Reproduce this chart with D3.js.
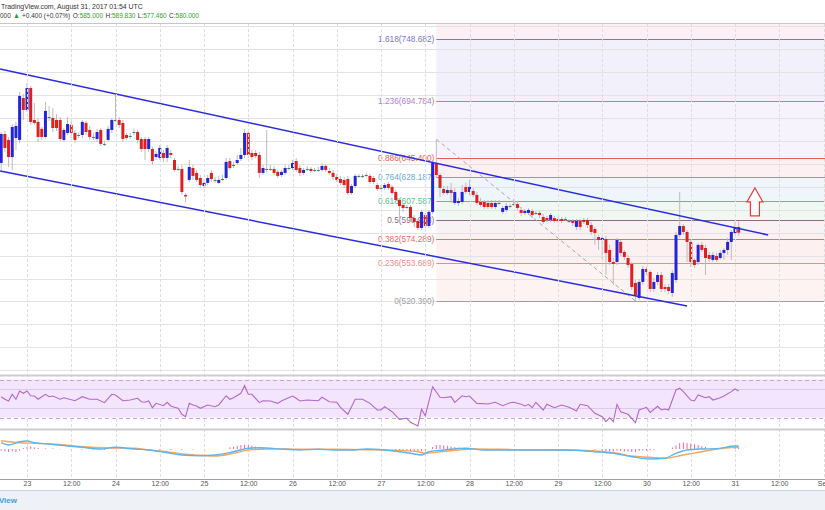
<!DOCTYPE html>
<html><head><meta charset="utf-8">
<script src="https://cdn.jsdelivr.net/npm/d3@7"></script>
<style>
html,body{margin:0;padding:0;background:#fff;overflow:hidden}
svg{display:block;font-family:"Liberation Sans",Arial,sans-serif}
</style></head><body>
<svg id="c" width="825" height="510"></svg>
<script>
// ---------- DATA (hourly BTCUSD bars, first bar Aug 22 16:00 UTC) ----------
const firstBarUtc = "2017-08-22T16:00:00Z";
const open = [
639.1,640.8,666.1,660.9,646.0,662.6,660.9,697.5,687.0,706.2,
678.3,676.6,670.5,663.5,680.9,680.1,678.3,678.3,660.9,667.0,
674.0,667.0,665.2,665.2,675.7,669.6,663.5,661.7,669.6,657.4,
660.9,669.6,678.3,678.3,675.7,665.2,664.4,667.8,667.8,661.7,
661.7,653.0,653.0,646.0,645.2,649.5,645.2,649.5,643.4,635.6,
635.6,612.9,626.0,636.4,632.1,627.7,620.7,623.4,632.1,626.0,
623.4,626.8,627.7,642.5,639.1,640.8,644.3,647.8,667.0,649.5,
649.5,647.8,632.1,635.6,635.6,635.6,633.0,630.3,632.1,636.4,
636.4,642.5,636.4,632.1,635.6,635.6,634.7,634.7,634.7,638.2,
633.8,632.1,628.6,626.8,626.0,626.8,614.6,620.7,629.5,629.5,
630.3,629.5,627.7,621.6,619.0,619.0,622.5,619.9,615.5,608.5,
604.2,602.4,602.4,592.8,590.2,584.1,595.4,585.8,598.1,640.8,
630.3,618.1,614.6,617.2,605.9,605.9,606.8,619.9,615.5,616.4,
612.9,606.8,606.8,605.9,605.9,602.4,605.9,598.1,599.8,603.3,
605.0,605.0,599.8,597.2,597.2,598.9,597.2,597.2,593.7,592.8,
591.1,592.8,591.9,591.9,591.9,590.2,590.2,585.0,590.2,591.1,
591.1,586.7,583.2,576.2,573.6,574.5,564.9,554.4,554.4,571.9,
563.2,557.9,552.7,536.1,523.0,537.0,548.3,545.7,530.9,537.0,
543.1,532.6,532.6,527.4,538.7,578.0,585.8,580.6,571.9,556.2,
554.4,569.3,566.6,560.5,556.2,559.7,557.9,562.3,564.9,571.9,
579.7,585.0];
const high = [
656.5,667.8,668.7,663.5,674.8,676.6,702.7,701.0,710.6,708.0,
693.1,680.1,672.2,694.0,690.5,688.8,683.5,680.9,671.3,680.9,
676.6,669.6,667.0,678.3,677.4,673.1,667.0,670.5,671.3,660.0,
673.1,680.1,700.1,680.9,678.3,667.0,667.0,670.5,669.6,663.5,
663.5,663.5,654.8,651.3,656.5,652.1,656.5,652.1,645.2,638.2,
639.1,614.6,643.4,639.1,634.7,630.3,626.0,630.3,634.7,628.6,
629.5,630.3,645.2,645.2,641.7,647.8,653.9,670.5,668.7,652.1,
652.1,650.4,639.1,669.6,639.1,638.2,634.7,634.7,639.1,639.1,
643.4,645.2,639.1,636.4,638.2,637.3,636.4,637.3,640.8,639.9,
636.4,634.7,631.2,629.5,628.6,629.5,622.5,631.2,631.2,631.2,
632.1,631.2,629.5,623.4,621.6,623.4,624.2,621.6,617.2,610.3,
605.9,604.2,604.2,595.4,591.9,599.8,597.2,599.8,643.4,661.5,
632.1,620.7,620.7,623.4,619.0,610.3,621.6,623.4,626.0,619.0,
615.5,610.3,608.5,608.5,608.5,608.5,608.5,603.3,605.9,605.0,
609.4,607.6,602.4,600.7,601.5,600.7,598.9,598.9,596.3,594.6,
597.2,594.6,593.7,593.7,593.7,591.9,591.9,591.9,591.9,592.8,
592.8,589.3,585.0,578.0,577.1,577.1,569.3,557.9,575.4,573.6,
564.9,560.5,554.4,538.7,539.6,550.9,550.1,547.5,540.5,545.7,
545.7,535.2,535.2,547.5,580.6,615.5,587.6,582.3,573.6,557.9,
571.0,571.9,569.3,563.2,563.2,562.3,564.9,566.6,575.4,582.3,
589.3,589.83];
const low = [
633.0,634.7,650.4,637.3,634.7,652.1,658.2,678.3,685.3,674.0,
674.0,659.1,660.9,661.7,677.4,667.8,668.7,660.0,659.1,665.2,
662.6,658.2,662.6,662.6,665.2,660.9,660.9,659.1,655.6,655.6,
659.1,667.0,676.6,671.3,659.1,660.9,661.7,665.2,658.2,650.4,
643.4,650.4,639.1,643.4,643.4,641.7,641.7,645.2,633.0,633.8,
612.9,606.8,624.2,626.0,624.2,619.0,619.0,621.6,624.2,623.4,
622.5,625.1,626.0,634.7,636.4,639.1,642.5,645.2,645.2,643.4,
645.2,627.7,630.3,633.0,633.8,630.3,627.7,628.6,630.3,634.7,
634.7,633.0,629.5,630.3,633.8,632.1,633.0,633.0,633.0,633.0,
630.3,626.0,624.2,621.6,619.0,612.9,612.9,619.0,627.7,627.7,
628.6,622.5,622.5,616.4,617.2,617.2,617.2,612.9,606.8,588.5,
598.1,600.7,589.3,585.0,582.3,582.3,584.1,584.1,596.3,627.7,
611.1,612.9,612.9,605.9,604.2,603.3,605.0,613.8,612.9,611.1,
604.2,602.4,600.7,600.7,600.7,600.7,604.2,596.3,598.1,601.5,
603.3,599.8,594.6,595.4,595.4,592.8,595.4,592.8,587.6,589.3,
589.3,588.5,588.5,588.5,590.2,588.5,585.8,582.3,582.3,587.6,
584.1,578.0,569.3,564.9,556.2,543.1,551.8,534.4,551.8,559.7,
556.2,549.2,530.0,520.39,521.0,534.4,543.1,528.3,528.3,534.4,
528.3,528.3,526.5,523.9,536.1,575.4,578.0,554.4,550.1,549.2,
551.8,563.2,543.1,554.4,554.4,554.4,556.2,556.2,560.5,556.2,
578.0,577.46];
const close = [
652.1,666.1,653.9,646.0,672.2,673.1,699.3,687.0,706.2,676.6,
675.7,663.5,663.5,686.2,680.9,671.3,671.3,661.7,669.6,674.8,
667.0,660.9,665.2,676.6,667.8,663.5,663.5,667.8,657.4,657.4,
670.5,678.3,678.3,674.0,661.7,662.6,664.4,667.8,660.9,653.0,
653.0,661.7,642.5,648.7,653.9,645.2,653.9,647.8,634.7,635.6,
615.5,611.6,637.3,629.5,626.0,621.6,623.4,627.7,626.8,626.0,
626.0,626.8,641.7,636.4,639.1,643.4,647.8,667.0,647.8,646.0,
646.9,632.1,636.4,635.6,635.6,632.1,629.5,633.0,636.4,636.4,
640.8,634.7,632.1,634.7,635.6,633.8,634.7,634.7,638.2,634.7,
632.1,628.6,626.0,623.4,621.6,614.6,620.7,629.5,629.5,629.5,
630.3,624.2,624.2,618.1,619.0,621.6,619.0,614.6,608.5,603.3,
601.5,602.4,592.8,589.3,584.1,598.1,585.8,598.1,640.8,630.3,
619.0,614.6,617.2,614.6,615.5,607.6,615.5,615.5,619.9,612.9,
605.9,604.2,602.4,602.4,602.4,605.9,605.9,601.5,603.3,603.3,
605.0,601.5,597.2,598.9,599.8,595.4,597.2,595.4,589.3,591.1,
595.4,590.2,590.2,590.2,591.9,590.2,588.5,590.2,585.0,589.3,
586.7,580.6,579.7,573.6,575.4,562.3,554.4,552.7,573.6,562.3,
558.8,551.8,532.6,525.6,537.0,548.3,545.7,530.9,537.0,543.1,
530.9,530.9,529.1,544.8,578.0,585.8,580.6,571.9,554.4,551.8,
569.3,564.9,557.9,557.1,560.5,556.2,562.3,564.9,571.9,580.6,
585.0,580.0];

// RSI(14): hours since Aug 23 00:00 UTC, values
const rsiHours = [-7,-6,-5,-4,-3,-2,-1,0,1,2,3,5,6,7,9,10,13,15,17,19,21,23,24,26,28,30,31,32,33,34,35,37,38,39,40,41,42,43,44,45,46,47,49,51,52,54,55,56,58,59,60,61,63,64,66,68,69,70,72,73,74,76,79,80,82,84,85,87,89,91,93,95,96,97,99,101,103,104,106,107,108,110,112,113,115,116,118,119,120,122,125,127,129,131,132,134,135,136,137,138,140,141,143,145,147,149,150,152,154,156,157,158,159,160,161,163,165,166,168,169,171,172,173,174,176,177,178,180,181,182,184,185,186,188,189,191,192,193];
const rsiValues = [51.9,49.2,47.4,54.4,49.2,57.9,55.5,57.9,52.9,52.6,49.2,54.4,51.9,52.6,49.2,50.8,47.7,51.9,49.2,49.2,45.6,54.4,53.7,47.7,48.4,50.2,46.6,46.0,47.4,40.3,44.9,42.4,46.0,42.1,40.7,39.7,33.4,30.8,44.9,43.2,42.1,39.7,43.2,41.4,43.2,52.9,49.2,50.8,55.5,63.5,54.4,54.4,45.6,47.7,47.4,44.9,47.4,49.2,52.6,50.2,47.4,48.4,47.7,51.3,46.6,46.0,40.7,33.4,49.2,49.2,44.9,37.9,37.9,41.4,36.1,28.1,29.2,24.9,21.1,38.6,31.9,62.4,51.3,50.8,51.9,46.0,52.9,51.9,52.6,44.9,44.2,46.0,42.4,45.6,46.0,43.9,42.1,43.9,40.3,46.0,37.9,43.9,40.3,43.2,40.7,36.8,43.9,42.4,34.4,30.8,25.6,29.8,25.6,43.9,36.1,33.4,24.6,37.9,40.7,35.4,41.8,37.9,38.9,37.9,59.0,60.8,57.2,48.4,47.4,53.7,50.8,51.9,48.4,50.8,52.6,57.2,60.0,57.9];
const rsiBand = [30, 70];
const rsiGrid = [40, 60];

// MACD
const macdHours = [-7,-5,-2,0,2,6,11,15,20,24,29,33,38,42,47,51,56,60,63,70,74,79,83,88,92,97,101,104,107,109,113,119,124,128,137,146,154,159,164,169,173,176,179,183,187,192,193];
const macdValues = [3.15,2.0,3.65,4.0,3.15,2.5,1.5,0.85,0,0.85,0,-0.5,-1.85,-3.0,-3.35,-3.0,-1.35,0.35,0.65,-0.15,-0.5,-0.15,-0.5,-0.5,0,-0.5,-1.35,-2.15,-3.0,-1.35,-0.5,0.35,-0.5,-0.5,-0.5,-0.5,-1.35,-2.15,-3.85,-5.0,-4.65,-2.15,-0.5,0,0.15,1.5,1.5];
const signalHours = [-7,-2,2,6,11,15,20,24,29,33,38,42,47,51,56,60,65,70,74,83,92,97,101,106,108,112,117,121,128,137,146,154,160,164,169,173,178,183,187,193];
const signalValues = [4.15,3.15,2.85,2.5,1.85,1.15,0.65,0.5,0.35,-0.5,-1.35,-2.5,-3.15,-3.5,-2.15,-0.5,0,0,-0.15,-0.15,-0.35,-0.5,-0.75,-1.35,-2.15,-1.35,-0.5,0,-0.15,-0.5,-0.5,-1.0,-2.15,-3.5,-4.15,-4.65,-3.0,-1.35,0,0.85];
const histHours = [-7,-6,-5,-4,-3,-2,-1,0,1,2,3,5,7,9,12,15,18,21,24,27,30,33,36,39,42,45,55,56,57,58,59,60,61,62,63,64,100,101,102,103,104,105,106,107,108,110,111,112,113,114,115,116,117,125,127,129,131,133,135,137,139,141,154,156,157,158,159,160,161,162,163,164,165,166,167,168,169,170,175,176,177,178,179,180,181,182,183,184,192,193];
const histValues = [-0.8,-1.2,-1.5,-1.2,-1.5,-0.8,0.5,1.0,1.2,0.8,0.5,0.3,0.3,-0.2,-0.2,-0.3,-0.3,-0.4,0.3,-0.2,-0.3,-0.3,-0.4,-0.5,-0.5,-0.3,0.8,1.2,1.6,2.0,2.2,2.0,1.6,1.2,0.8,0.5,-0.6,-0.8,-1.0,-1.1,-1.2,-1.3,-1.3,-1.0,-0.7,1.0,2.0,2.0,1.8,1.6,1.3,1.0,0.6,-0.3,-0.4,-0.5,-0.3,-0.4,-0.5,-0.4,-0.5,-0.4,-0.5,-0.8,-1.0,-1.2,-1.3,-0.8,-1.0,-1.2,-1.3,-1.5,-1.5,-1.0,-0.8,-0.8,-0.6,-0.4,0.8,1.8,3.0,3.2,3.0,2.8,2.4,2.0,1.4,1.0,1.0,0.8];

// Fibonacci retracement (drawn from hour 111 high to hour 165 low)
const fibRatios = ["0","0.236","0.382","0.5","0.618","0.764","0.886","1.236","1.618"];
const fibPrices = [520.390,553.689,574.289,590.938,607.587,628.187,645.400,694.784,748.682];
const fibColors = ["#9e9e9e","#f08a8a","#f06868","#8c6a82","#5cc08e","#66a9d9","#f05a5a","#b27ad8","#7c72d8"];
const fibFills = ["#fdf3f3","#fdf0f0","#f8f2f4","#eff8f3","#eef5fb","#fdf0f2","#f7f3fc","#f2f0fb"];
const fibStartHour = 111, fibHigh = 661.4855, fibEndHour = 165, fibLow = 520.39;

// Descending channel
const upperHours = [-7.3, 201], upperPrices = [722.8, 578.0];
const lowerHours = [-7.3, 179], lowerPrices = [633.8, 516.0];

// Arrow annotation
const arrowHour = 197.4, arrowPrice = 619.0;

// Axes / header text
const priceGrid = [460,480,500,520,540,560,580,600,620,640,660,680,700,720,740,760];
const timeLabels = ["23","12:00","24","12:00","25","12:00","26","12:00","27","12:00","28","12:00","29","12:00","30","12:00","31","12:00","Sep"];
const headerTitle = "TradingView.com, August 31, 2017 01:54 UTC";
const headerSegments = [["000","#333",3],["▲","#29a329",3],["+0.400 (+0.07%)","#333",3],["O:","#333",0],["585.000","#29a329",3],["H:","#333",0],["589.830","#29a329",3],["L:","#333",0],["577.460","#29a329",3],["C:","#333",0],["580.000","#29a329",0]];

// ---------- DRAW ----------
const W = 825, H = 510, HOUR = 3600e3;
const base = Date.UTC(2017, 7, 23);
const tH = h => new Date(base + h * HOUR);
const svg = d3.select("#c");
const x = d3.scaleUtc().domain([tH(0), tH(192)]).range([27, 735]);
const y = d3.scaleLinear().domain([520.39, 748.682]).range([301, 39.3]);
const yR = d3.scaleLinear().domain([30, 70]).range([417.5, 379.5]);
const yM = d3.scaleLinear().domain([-14.5, 8.5]).range([478, 432]);

const mainTop = 24, mainBot = 374, rsiTop = 377, rsiBot = 428, mTop = 431, mBot = 478;
const defs = svg.append("defs");
defs.append("clipPath").attr("id","cm").append("rect").attr("x",0).attr("y",mainTop).attr("width",W).attr("height",mainBot-mainTop);
defs.append("clipPath").attr("id","cr").append("rect").attr("x",0).attr("y",rsiTop).attr("width",W).attr("height",rsiBot-rsiTop);
defs.append("clipPath").attr("id","cd").append("rect").attr("x",0).attr("y",mTop).attr("width",W).attr("height",mBot-mTop);

svg.append("rect").attr("width",W).attr("height",H).attr("fill","#fff");

const main = svg.append("g").attr("clip-path","url(#cm)");
// fib background
const fx0 = x(tH(fibStartHour));
main.append("rect").attr("x",fx0).attr("y",mainTop).attr("width",W-fx0).attr("height",y(fibPrices[8])-mainTop).attr("fill","#fdf0f4");
main.selectAll("rect.ff").data(fibFills).join("rect").attr("class","ff")
  .attr("x",fx0).attr("width",W-fx0)
  .attr("y",(d,i)=>y(fibPrices[i+1])).attr("height",(d,i)=>y(fibPrices[i])-y(fibPrices[i+1]))
  .attr("fill",d=>d);

// grid
main.selectAll("line.hg").data(priceGrid).join("line").attr("class","hg")
  .attr("x1",0).attr("x2",W).attr("y1",d=>Math.round(y(d))+0.5).attr("y2",d=>Math.round(y(d))+0.5)
  .attr("stroke","#e3e3e3");
const vHours = d3.range(-12, 217, 12);
svg.append("g").selectAll("line").data(vHours).join("line")
  .attr("x1",d=>Math.round(x(tH(d)))+0.5).attr("x2",d=>Math.round(x(tH(d)))+0.5)
  .attr("y1",mainTop).attr("y2",479).attr("stroke","#dedede").attr("stroke-dasharray","3,2");

// fib lines & labels
main.selectAll("line.fl").data(fibPrices).join("line").attr("class","fl")
  .attr("x1",fx0).attr("x2",W).attr("y1",d=>Math.round(y(d))+0.5).attr("y2",d=>Math.round(y(d))+0.5)
  .attr("stroke",(d,i)=>fibColors[i]).attr("stroke-width",1.1);
main.selectAll("text.fl").data(fibPrices).join("text").attr("class","fl")
  .attr("x",fx0-2).attr("y",d=>y(d)+3).attr("text-anchor","end").attr("font-size",8.3)
  .attr("fill",(d,i)=>fibColors[i]).text((d,i)=>`${fibRatios[i]}(${d.toFixed(3)})`);
main.append("line").attr("x1",x(tH(fibStartHour))).attr("y1",y(fibHigh)).attr("x2",x(tH(fibEndHour))).attr("y2",y(fibLow))
  .attr("stroke","#a8a8a8").attr("stroke-dasharray","4,3");

// candles
const candles = open.map((o,i)=>({t:new Date(Date.parse(firstBarUtc)+i*HOUR),o,h:high[i],l:low[i],c:close[i]}));
const gC = main.append("g");
gC.selectAll("line").data(candles).join("line")
  .attr("x1",d=>x(d.t)).attr("x2",d=>x(d.t)).attr("y1",d=>y(d.h)).attr("y2",d=>y(d.l))
  .attr("stroke","#bcbcbc");
gC.selectAll("rect").data(candles).join("rect")
  .attr("x",d=>x(d.t)-1.5).attr("width",3)
  .attr("y",d=>y(Math.max(d.o,d.c))).attr("height",d=>Math.max(1,Math.abs(y(d.o)-y(d.c))))
  .attr("fill",d=>d.c>d.o?"#2424d8":d.c<d.o?"#dd2121":"#3e7f66");

// channel
const chLine = d3.line().x(d=>x(tH(d[0]))).y(d=>y(d[1]));
main.append("path").attr("d",chLine(upperHours.map((h,i)=>[h,upperPrices[i]]))).attr("stroke","#2a2ae0").attr("stroke-width",1.5).attr("fill","none");
main.append("path").attr("d",chLine(lowerHours.map((h,i)=>[h,lowerPrices[i]]))).attr("stroke","#2a2ae0").attr("stroke-width",1.5).attr("fill","none");

// arrow
const ax = x(tH(arrowHour)), ay = y(arrowPrice);
const arrowShape = [[0,0],[8,14],[4.5,14],[4.5,28],[-4.5,28],[-4.5,14],[-8,14]];
main.append("polygon").attr("points",arrowShape.map(p=>[ax+p[0],ay+p[1]].join(",")).join(" "))
  .attr("fill","#fff").attr("stroke","#ee3838").attr("stroke-width",1.2);

// separators
svg.append("rect").attr("x",0).attr("y",374.5).attr("width",W).attr("height",2).attr("fill","#cdcdcd");
svg.append("rect").attr("x",0).attr("y",428.5).attr("width",W).attr("height",2).attr("fill","#cdcdcd");

// RSI
const rsi = svg.append("g").attr("clip-path","url(#cr)");
rsi.append("rect").attr("x",0).attr("width",W).attr("y",yR(rsiBand[1])).attr("height",yR(rsiBand[0])-yR(rsiBand[1])).attr("fill","#f3e6fc");
rsi.selectAll("line.g").data(rsiGrid).join("line").attr("class","g")
  .attr("x1",0).attr("x2",W).attr("y1",d=>Math.round(yR(d))+0.5).attr("y2",d=>Math.round(yR(d))+0.5).attr("stroke","#dccbe6");
rsi.selectAll("line.b").data(rsiBand).join("line").attr("class","b")
  .attr("x1",0).attr("x2",W).attr("y1",d=>Math.round(yR(d))+0.5).attr("y2",d=>Math.round(yR(d))+0.5)
  .attr("stroke","#c9a5da").attr("stroke-dasharray","4,3");
rsi.append("path").attr("d",d3.line().x(d=>x(tH(d[0]))).y(d=>yR(d[1]))(rsiHours.map((h,i)=>[h,rsiValues[i]])))
  .attr("fill","none").attr("stroke","#b466cc").attr("stroke-width",1.1);

// MACD
const md = svg.append("g").attr("clip-path","url(#cd)");
md.selectAll("line.h").data(histHours).join("line").attr("class","h")
  .attr("x1",d=>x(tH(d))).attr("x2",d=>x(tH(d))).attr("y1",yM(0)).attr("y2",(d,i)=>yM(histValues[i]))
  .attr("stroke","#f06a9a").attr("stroke-width",1);
const mLine = d3.line().curve(d3.curveMonotoneX).x(d=>x(tH(d[0]))).y(d=>yM(d[1]));
md.append("path").attr("d",mLine(signalHours.map((h,i)=>[h,signalValues[i]]))).attr("fill","none").attr("stroke","#ffa35a").attr("stroke-width",1.4);
md.append("path").attr("d",mLine(macdHours.map((h,i)=>[h,macdValues[i]]))).attr("fill","none").attr("stroke","#5ab6f0").attr("stroke-width",1.4);

// time axis
svg.append("line").attr("x1",0).attr("x2",W).attr("y1",479.5).attr("y2",479.5).attr("stroke","#a0a0a0");
const tickDates = timeLabels.map((s,i)=>tH(i*12));
const axis = d3.axisBottom(x).tickValues(tickDates).tickSize(0).tickPadding(0).tickFormat((d,i)=>timeLabels[i]);
const ga = svg.append("g").attr("transform","translate(0,481)").call(axis);
ga.select(".domain").remove();
ga.selectAll("text").attr("font-size",7).attr("fill","#555").attr("font-family","Liberation Sans, Arial, sans-serif").attr("dy","0.75em");

// bottom strip
svg.append("rect").attr("x",0).attr("y",490).attr("width",W).attr("height",20).attr("fill","#eef1f5");
svg.append("line").attr("x1",0).attr("x2",W).attr("y1",490.5).attr("y2",490.5).attr("stroke","#cfd3d8");
svg.append("text").attr("x",17).attr("y",503).attr("text-anchor","end").attr("font-size",8).attr("font-weight","bold").attr("fill","#3aa0dd").text("TradingView");

// header
svg.append("rect").attr("x",0).attr("y",0).attr("width",W).attr("height",23).attr("fill","#fff");
svg.append("line").attr("x1",0).attr("x2",W).attr("y1",23.5).attr("y2",23.5).attr("stroke","#c6c6c6");
const h1 = svg.append("g");
const h1t = h1.append("text").attr("x",0).attr("y",9).attr("font-size",8).attr("fill","#333").text(headerTitle);
const h1w = h1t.node().getComputedTextLength();
h1.attr("transform",`translate(1,0) scale(${142/h1w},1)`);
const h2 = svg.append("g");
let cx = 0;
headerSegments.forEach(([s,c,gap])=>{
  const t = h2.append("text").attr("x",cx).attr("y",18.5).attr("font-size",8).attr("fill",c).text(s);
  cx += t.node().getComputedTextLength() + gap;
});
h2.attr("transform",`scale(${199/cx},1)`);
</script>
</body></html>
